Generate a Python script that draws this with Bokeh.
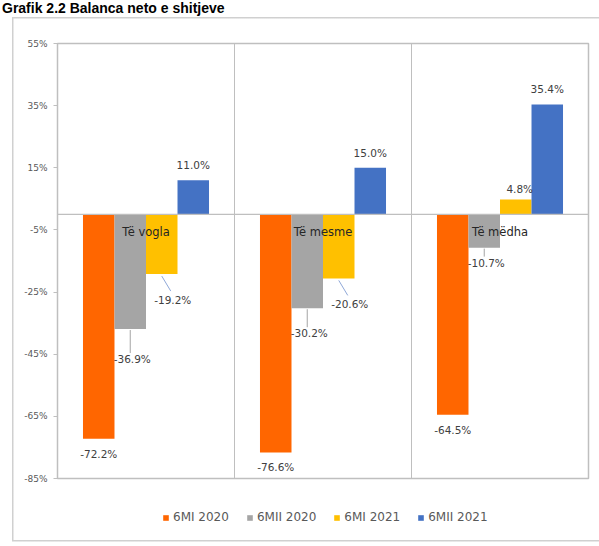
from bokeh.plotting import figure
from bokeh.layouts import column
from bokeh.models import (ColumnDataSource, FixedTicker, PrintfTickFormatter, Span,
                          Legend, LegendItem, Range1d, Div)
from bokeh.core.properties import value
from bokeh.embed import file_html
from bokeh.resources import INLINE

# ---- data ----
categories = ["Të vogla", "Të mesme", "Të mëdha"]
series_names = ["6MI 2020", "6MII 2020", "6MI 2021", "6MII 2021"]
s_6mi_2020 = [-72.2, -76.6, -64.5]
s_6mii_2020 = [-36.9, -30.2, -10.7]
s_6mi_2021 = [-19.2, -20.6, 4.8]
s_6mii_2021 = [11.0, 15.0, 35.4]
y_ticks = [-85, -65, -45, -25, -5, 15, 35, 55]
title_text = "Grafik 2.2 Balanca neto e shitjeve"

colors = ["#FF6600", "#A5A5A5", "#FFC000", "#4472C4"]
series = [s_6mi_2020, s_6mii_2020, s_6mi_2021, s_6mii_2021]

FONT = "DejaVu Sans"
LBL_COLOR = "#404040"
FRAME_C = "#D0D0D0"

W = 599
TITLE_H = 16
ML, MR, MT, MB = 57, 11, 43 - TITLE_H, 10
FRAME_H = 435
H = MT + FRAME_H + MB
LEG_H = 546 - TITLE_H - H

p = figure(width=W, height=H, output_backend="svg", toolbar_location=None,
           x_range=Range1d(0, 3), y_range=Range1d(-85, 55),
           min_border_left=ML, min_border_right=MR, min_border_top=MT, min_border_bottom=MB)
p.background_fill_color = "white"
p.border_fill_alpha = 0
p.outline_line_color = "#BFBFBF"
p.outline_line_width = 1.5

bw = 0.178
offsets = [-1.5 * bw, -0.5 * bw, 0.5 * bw, 1.5 * bw]
centers = [i + 0.5 for i in range(len(categories))]
px_y = FRAME_H / 140.0
px_x = (W - ML - MR) / 3.0

for k, (vals, col) in enumerate(zip(series, colors)):
    xs = [c + offsets[k] for c in centers]
    src = ColumnDataSource(dict(x=xs, top=vals))
    p.vbar(x="x", top="top", bottom=0, width=bw, source=src,
           fill_color=col, line_color=None)

p.add_layout(Span(location=0, dimension="width", line_color="#BFBFBF", line_width=1.2))


def put_labels(xs, vals, dx_px, dy_px, baseline, align="center"):
    src = ColumnDataSource(dict(x=xs, y=vals, t=["%.1f%%" % v for v in vals]))
    p.text(x="x", y="y", text="t", source=src, x_offset=dx_px, y_offset=dy_px,
           text_font=value(FONT), text_font_size="10.5px", text_color=LBL_COLOR,
           text_align=align, text_baseline=baseline)


xs0 = [c + offsets[0] for c in centers]
put_labels(xs0, s_6mi_2020, 0, 15, "middle")

gray_dy = [30, 25, 15]
xs1 = [c + offsets[1] for c in centers]
for x, v, d in zip(xs1, s_6mii_2020, gray_dy):
    put_labels([x], [v], 2, d, "middle")
    p.segment(x0=[x], y0=[v - 1.0 / px_y], x1=[x], y1=[v - (d - 6) / px_y],
              line_color="#A5A5A5", line_width=1)

xs2 = [c + offsets[2] for c in centers]
for x, v in zip(xs2, s_6mi_2021):
    if v < 0:
        put_labels([x], [v], 11, 26, "middle")
        p.segment(x0=[x], y0=[v - 2.0 / px_y], x1=[x + 9.0 / px_x], y1=[v - 17.0 / px_y],
                  line_color="#8FA8D8", line_width=1)
    else:
        put_labels([x], [v], 4, -4, "bottom")

xs3 = [c + offsets[3] for c in centers]
put_labels(xs3, s_6mii_2021, 0, -9, "bottom")

p.text(x=centers, y=[0] * 3, text=categories, y_offset=18,
       text_font=value(FONT), text_font_size="11.5px", text_color="#262626",
       text_align="center", text_baseline="middle")

p.xaxis.visible = False
p.xgrid.ticker = FixedTicker(ticks=[1, 2])
p.xgrid.grid_line_color = "#BFBFBF"
p.ygrid.grid_line_color = None
ya = p.yaxis[0]
ya.ticker = FixedTicker(ticks=y_ticks)
ya.formatter = PrintfTickFormatter(format="%d%%")
ya.major_label_text_font = FONT
ya.major_label_text_font_size = "9px"
ya.major_label_text_color = "#595959"
ya.axis_line_color = "#BFBFBF"
ya.major_tick_line_color = "#BFBFBF"
ya.major_tick_out = 4
ya.major_tick_in = 0
ya.minor_tick_line_color = None
ya.major_label_standoff = 6

# legend strip: a bare figure whose view shows none of the bars, only the legend
q = figure(width=W, height=LEG_H, output_backend="svg", toolbar_location=None,
           x_axis_type=None, y_axis_type=None,
           x_range=Range1d(0, 3), y_range=Range1d(1000, 1001),
           min_border_left=0, min_border_right=0, min_border_top=0, min_border_bottom=0)
q.grid.visible = False
q.outline_line_color = None
q.background_fill_alpha = 0
q.border_fill_alpha = 0
leg_renderers = []
for k, (vals, col) in enumerate(zip(series, colors)):
    xs = [c + offsets[k] for c in centers]
    leg_renderers.append(q.vbar(x=xs, top=vals, bottom=0, width=bw,
                                fill_color=col, line_color=None))
items = [LegendItem(label=n, renderers=[r]) for n, r in zip(series_names, leg_renderers)]
legend = Legend(items=items, orientation="horizontal", location=(103, LEG_H - 28 - 10),
                label_text_font=FONT, label_text_font_size="12px",
                label_text_color="#595959", glyph_width=7, glyph_height=7,
                label_standoff=4, spacing=17, padding=2, margin=0,
                border_line_alpha=0, background_fill_alpha=0)
q.add_layout(legend)

title = Div(text=title_text, width=W, height=TITLE_H, margin=0,
            styles={"font-family": "'Liberation Sans', Arial, sans-serif",
                    "font-weight": "bold", "font-size": "14px", "line-height": "16px",
                    "color": "#000000", "padding-left": "2px", "white-space": "nowrap"})

g = "linear-gradient(%s,%s)" % (FRAME_C, FRAME_C)
layout = column(title, p, q, spacing=0, styles={
    "background-color": "white",
    "background-image": ", ".join([g, g, g]),
    "background-size": "1.5px 524px, 600px 1.5px, 600px 1.5px",
    "background-position": "12px 17px, 12px 17px, 12px 540px",
    "background-repeat": "no-repeat",
})

open("out.html", "w").write(file_html(layout, INLINE))
